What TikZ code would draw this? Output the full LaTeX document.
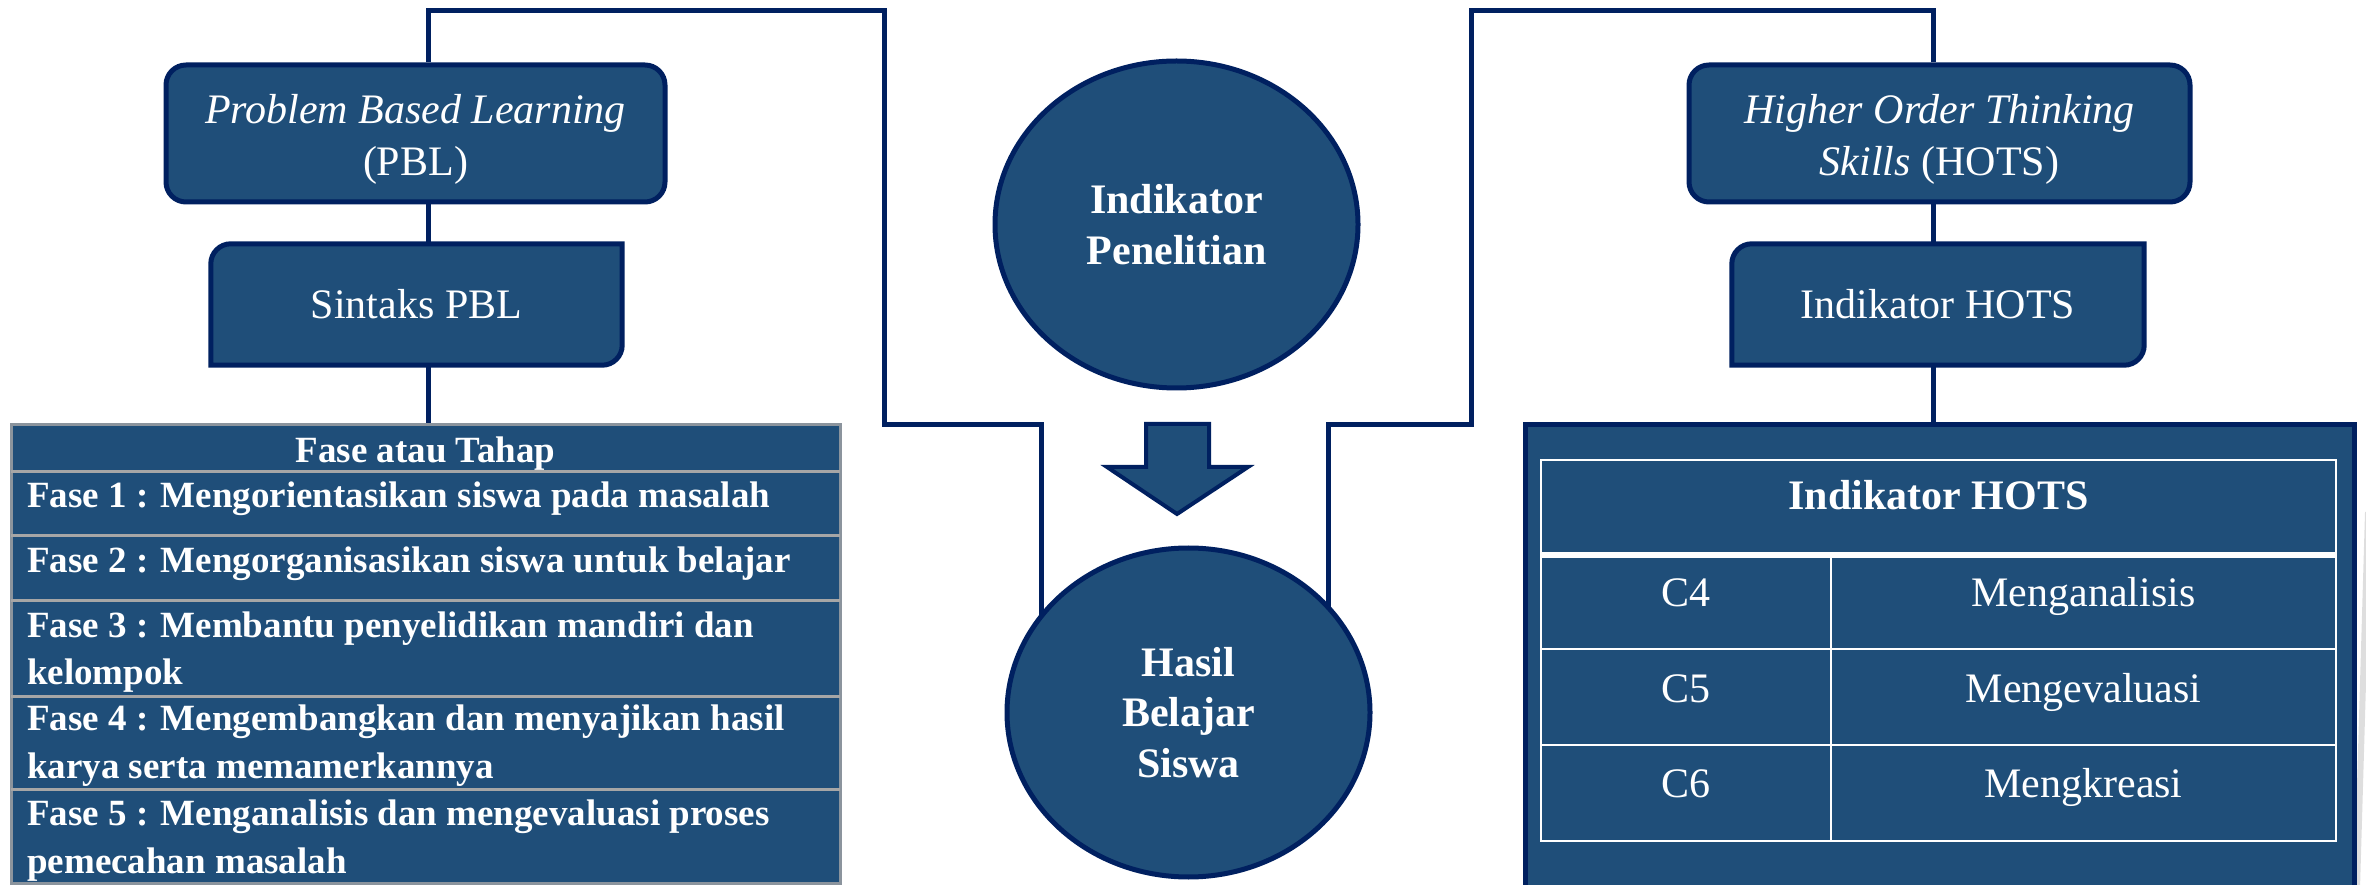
\documentclass[tikz,border=0pt]{standalone}
\usepackage{fontspec}
\setmainfont{Liberation Serif}
\usetikzlibrary{backgrounds,shapes.geometric}
\definecolor{boxfill}{HTML}{1F4E79}
\definecolor{navy}{HTML}{002060}
\definecolor{rowgrey}{HTML}{A6A6A6}
\newcommand\fsA{\fontsize{42}{52}\selectfont}
\newcommand\fsB{\fontsize{42}{50.5}\selectfont\bfseries}
\newcommand\fsC{\fontsize{37}{47}\selectfont\bfseries}
\begin{document}
\begin{tikzpicture}[x=1pt,y=1pt,
  conn/.style={draw=navy,line width=5pt},
  rbox/.style={draw=navy,fill=boxfill,line width=5pt,rounded corners=20pt,text=white,align=center,inner sep=0pt,font=\fsA},
  dbox/.style={text=white,inner sep=0pt,font=\fsA},
  dline/.style={draw=navy,fill=boxfill,line width=5pt},
  ell/.style={ellipse,draw=navy,fill=boxfill,line width=5pt,text=white,align=center,inner sep=0pt,font=\fsB},
  ftxt/.style={text=white,inner sep=0pt,font=\fsC},
  htxt/.style={text=white,inner sep=0pt,font=\fsA,anchor=base},
  rowline/.style={draw=rowgrey,line width=3pt},
  wline/.style={draw=white,line width=2.5pt}]
\useasboundingbox (0,0) rectangle (2366,884);

\coordinate (lx) at (428,0);
\coordinate (rx) at (1933,0);
\coordinate (c1) at (884,873);
\coordinate (c2) at (1041,459);
\coordinate (c3) at (1471,873);
\coordinate (c4) at (1328,459);

% top boxes
\node[rbox,minimum width=499pt,minimum height=137pt] (pbl) at (415.5,750.5)
  {\rule{0pt}{41pt}\textit{Problem Based Learning}\\(PBL)};
\node[rbox,minimum width=501pt,minimum height=137pt] (hots) at (1939.5,750.5)
  {\rule{0pt}{41pt}\textit{Higher Order Thinking}\\\textit{Skills} (HOTS)};

% diagonal-corner boxes (text nodes, outlines on background)
\node[dbox,minimum width=411pt,minimum height=121pt] (sintaks) at (416.5,579.5) {Sintaks PBL};
\node[dbox,minimum width=412pt,minimum height=121pt] (indh) at (1938,579.5) {Indikator HOTS};

% ellipses
\node[ell,minimum width=363pt,minimum height=327pt] (indp) at (1176.5,659.5) {Indikator\\Penelitian};
\node[ell,minimum width=363pt,minimum height=329pt] (hasil) at (1188.5,171.5) {Hasil\\Belajar\\Siswa};

% block arrow
\path[dline,line width=4pt] (1146,460) -- (1209,460) -- (1209,417) -- (1248,417) -- (1177,370)
  -- (1107,417) -- (1146,417) -- cycle;

% Fase table
\node[draw=rowgrey!80!boxfill,fill=boxfill,line width=3pt,minimum width=829pt,minimum height=458pt,inner sep=0pt]
  (fase) at (425.5,230) {};
\draw[rowline] (11,412) -- (840,412);
\draw[rowline] (11,348) -- (840,348);
\draw[rowline] (11,283) -- (840,283);
\draw[rowline] (11,188) -- (840,188);
\draw[rowline] (11,95) -- (840,95);
\node[ftxt,anchor=base] (fh) at (425.5,421) {Fase atau Tahap};
\node[ftxt,anchor=base west] (f1) at (27,376) {Fase 1 : Mengorientasikan siswa pada masalah};
\node[ftxt,anchor=base west] (f2) at (27,311) {Fase 2 : Mengorganisasikan siswa untuk belajar};
\node[ftxt,anchor=base west] (f3a) at (27,247) {Fase 3 : Membantu penyelidikan mandiri dan};
\node[ftxt,anchor=base west] (f3b) at (27,200) {kelompok};
\node[ftxt,anchor=base west] (f4a) at (27,154) {Fase 4 : Mengembangkan dan menyajikan hasil};
\node[ftxt,anchor=base west] (f4b) at (27,106) {karya serta memamerkannya};
\node[ftxt,anchor=base west] (f5a) at (27,59) {Fase 5 : Menganalisis dan mengevaluasi proses};
\node[ftxt,anchor=base west] (f5b) at (27,11) {pemecahan masalah};

% HOTS table
\node[draw=navy,fill=boxfill,line width=5pt,minimum width=829pt,minimum height=469pt,inner sep=0pt]
  (hotsouter) at (1939.5,224.5) {};
\draw[wline] (1541,43) rectangle (2336,424);
\draw[draw=white,line width=6pt] (1541,329) -- (2336,329);
\draw[wline] (1541,235) -- (2336,235);
\draw[wline] (1541,139) -- (2336,139);
\draw[wline] (1831,329) -- (1831,43);
\node[htxt,font=\fsA\bfseries] (th) at (1938.5,374) {Indikator HOTS};
\node[htxt] (tc4) at (1686,277) {C4};
\node[htxt] (tm4) at (2083.5,277) {Menganalisis};
\node[htxt] (tc5) at (1686,182) {C5};
\node[htxt] (tm5) at (2083.5,182) {Mengevaluasi};
\node[htxt] (tc6) at (1686,87) {C6};
\node[htxt] (tm6) at (2083.5,87) {Mengkreasi};

\begin{pgfonlayer}{background}
  \draw[black!13,line width=6pt] (2368,372) -- (2357,-4);
  \draw[conn] (pbl.north -| lx) |- (c1) |- (c2) -- (c2 |- hasil.center);
  \draw[conn] (hots.north -| rx) |- (c3) |- (c4) -- (c4 |- hasil.center);
  \draw[conn] (pbl.south -| lx) -- (sintaks.north -| lx);
  \draw[conn] (sintaks.south -| lx) -- (fase.north -| lx);
  \draw[conn] (hots.south -| rx) -- (indh.north -| rx);
  \draw[conn] (indh.south -| rx) -- (hotsouter.north -| rx);
  \path[dline] (sintaks.south west) -- ([yshift=-20pt]sintaks.north west)
    arc[start angle=180,end angle=90,radius=20pt] -- (sintaks.north east)
    -- ([yshift=20pt]sintaks.south east) arc[start angle=0,end angle=-90,radius=20pt] -- cycle;
  \path[dline] (indh.south west) -- ([yshift=-20pt]indh.north west)
    arc[start angle=180,end angle=90,radius=20pt] -- (indh.north east)
    -- ([yshift=20pt]indh.south east) arc[start angle=0,end angle=-90,radius=20pt] -- cycle;
\end{pgfonlayer}
\end{tikzpicture}
\end{document}
